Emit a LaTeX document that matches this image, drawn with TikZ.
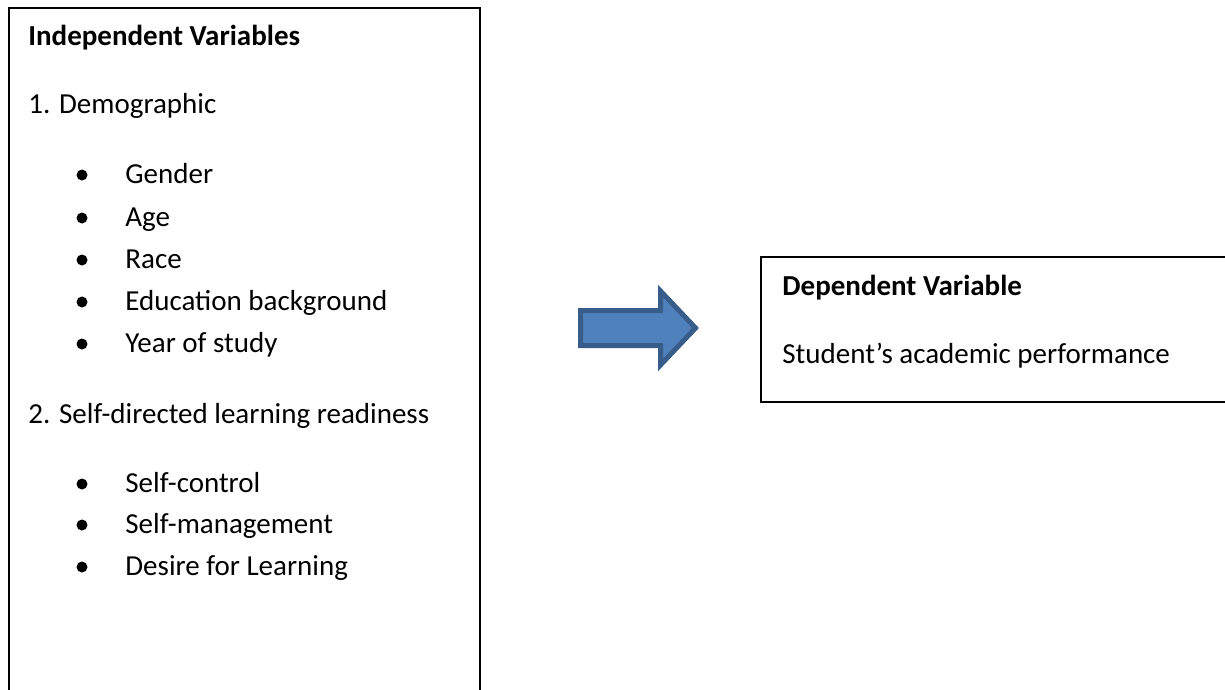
\documentclass[tikz,border=0pt]{standalone}
\usepackage{fontspec}
\setmainfont{Carlito}
\definecolor{arrowfill}{HTML}{4F81BD}
\definecolor{arrowline}{HTML}{385D8A}
\begin{document}
\begin{tikzpicture}[x=0.5pt,y=-0.5pt,
  txt/.style={anchor=base west, inner sep=0pt, font=\fontsize{14.5}{17}\selectfont},
  headtxt/.style={txt, font=\fontsize{14.5}{17}\selectfont\bfseries},
  dot/.style={circle, fill=black, inner sep=0pt, minimum size=5.5pt},
  frame/.style={draw=black, line width=1pt},
  blockarrow/.style={fill=arrowfill, draw=arrowline, line width=2.5pt, line join=miter}]
\useasboundingbox (0,0) rectangle (1225,690);
\clip (0,0) rectangle (1225,690);

% independent-variable frame (runs off the bottom)
\draw[frame] (9,720) -- (9,8) -- (480,8) -- (480,720);

\node[headtxt] (iv) at (28,46) {Independent Variables};
\node[txt] (demo) at (28,113) {1. Demographic};
\foreach \name/\label/\yy in {gender/Gender/183, age/Age/226, race/Race/268,
    edu/Education background/310, year/Year of study/352,
    ctrl/Self-control/492, mgmt/Self-management/533, desire/Desire for Learning/575}{
  \node[dot] (b-\name) at (82,\yy-8) {};
  \node[txt] (\name) at (125,\yy) {\label};
}
\node[txt] (sdl) at (28,423) {2. Self-directed learning readiness};

% block arrow
\draw[blockarrow] (580.5,310.5) -- (660.5,310.5) -- (660.5,291) -- (695.5,328)
  -- (660.5,365) -- (660.5,345.5) -- (580.5,345.5) -- cycle;

% dependent-variable frame (runs off the right edge)
\draw[frame] (1240,257) -- (761,257) -- (761,402) -- (1240,402);
\node[headtxt] (dv) at (782,295) {Dependent Variable};
\node[txt] (perf) at (782,363) {Student’s academic performance};
\end{tikzpicture}
\end{document}
